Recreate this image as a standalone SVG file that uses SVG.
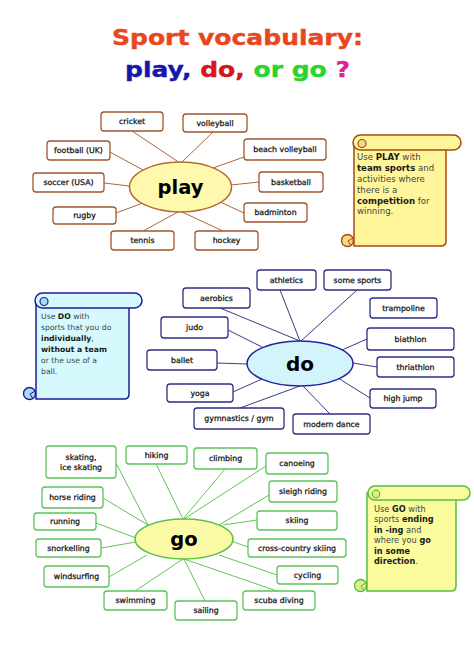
<svg xmlns="http://www.w3.org/2000/svg" width="474" height="670" viewBox="0 0 474 670">
<style>
.bx{fill:#fff;stroke-width:1.3}
.pb{stroke:#a0562e}
.db{stroke:#2e2e82}
.gb{stroke:#5cc25a}
.lb{font-family:"DejaVu Sans",Verdana,sans-serif;font-size:7.8px;fill:#111;stroke:#111;stroke-width:0.25;text-anchor:middle}
.pc line{stroke:#a8683e;stroke-width:1}
.dc line{stroke:#3a3a84;stroke-width:1}
.gc line{stroke:#62c456;stroke-width:1}
.hub{font-family:"DejaVu Sans",Verdana,sans-serif;font-weight:bold;fill:#000;text-anchor:middle}
.st{font-family:"DejaVu Sans",Verdana,sans-serif;fill:#444}
.st tspan.b{font-weight:bold;fill:#1a1a1a}
</style>
<rect width="474" height="670" fill="#fff"/>

<g id="title" font-family="'DejaVu Sans',Verdana,sans-serif" font-weight="bold" text-anchor="middle">
<text x="237.5" y="45" font-size="22" fill="#e8461c" stroke="#e8461c" stroke-width="0.4" textLength="251" lengthAdjust="spacingAndGlyphs">Sport vocabulary:</text>
<text x="237.5" y="77" font-size="22" stroke-width="0.4" textLength="225" lengthAdjust="spacingAndGlyphs"><tspan fill="#1616aa" stroke="#1616aa">play,</tspan><tspan fill="#d41818" stroke="#d41818"> do,</tspan><tspan fill="#2ad42a" stroke="#2ad42a"> or go</tspan><tspan fill="#e0228c" stroke="#e0228c"> ?</tspan></text>
</g>

<!-- connectors -->
<g id="connectors">
<g class="pc">
<line x1="132" y1="131" x2="180" y2="163"/>
<line x1="213" y1="132" x2="181" y2="163"/>
<line x1="244" y1="157" x2="213" y2="168"/>
<line x1="259" y1="182" x2="231" y2="185"/>
<line x1="244" y1="213" x2="218" y2="201"/>
<line x1="223" y1="231" x2="182" y2="212"/>
<line x1="143" y1="231" x2="178" y2="212"/>
<line x1="116" y1="213" x2="143" y2="203"/>
<line x1="104" y1="183" x2="129" y2="186"/>
<line x1="110" y1="152" x2="143" y2="170"/>
</g>
<g class="dc">
<line x1="280" y1="290" x2="300" y2="341"/>
<line x1="357" y1="290" x2="301" y2="341"/>
<line x1="220" y1="308" x2="300" y2="341"/>
<line x1="228" y1="330" x2="262" y2="347"/>
<line x1="217" y1="363" x2="247" y2="364"/>
<line x1="233" y1="392" x2="262" y2="379"/>
<line x1="240" y1="408" x2="300" y2="386"/>
<line x1="330" y1="414" x2="303" y2="386"/>
<line x1="367" y1="339" x2="342" y2="350"/>
<line x1="377" y1="367" x2="353" y2="363"/>
<line x1="370" y1="398" x2="338" y2="378"/>
</g>
<g class="gc">
<line x1="116" y1="463" x2="148" y2="525"/>
<line x1="156" y1="464" x2="183" y2="519"/>
<line x1="225" y1="469" x2="183" y2="519"/>
<line x1="266" y1="466" x2="184" y2="519"/>
<line x1="269" y1="495" x2="219" y2="525"/>
<line x1="257" y1="520" x2="223" y2="525"/>
<line x1="248" y1="547" x2="231" y2="541"/>
<line x1="277" y1="575" x2="219" y2="555"/>
<line x1="277" y1="591" x2="184" y2="559"/>
<line x1="205" y1="601" x2="184" y2="559"/>
<line x1="135" y1="591" x2="183" y2="559"/>
<line x1="109" y1="577" x2="147" y2="555"/>
<line x1="101" y1="548" x2="136" y2="542"/>
<line x1="96" y1="523" x2="136" y2="538"/>
<line x1="103" y1="498" x2="148" y2="525"/>
</g>
</g>

<!-- PLAY -->
<g id="play-hub"><ellipse cx="180.5" cy="187" rx="51" ry="25" fill="#fff9ae" stroke="#b46a30" stroke-width="1.5"/><text class="hub" x="180.5" y="194" font-size="19.5">play</text></g>
<g id="p-cricket"><rect class="bx pb" x="101" y="112" width="62" height="19" rx="3"/><text class="lb" x="132" y="124.3">cricket</text></g>
<g id="p-volleyball"><rect class="bx pb" x="183" y="114" width="64" height="18" rx="3"/><text class="lb" x="215" y="125.8">volleyball</text></g>
<g id="p-beach"><rect class="bx pb" x="244" y="139" width="82" height="21" rx="3"/><text class="lb" x="285" y="152.3">beach volleyball</text></g>
<g id="p-basketball"><rect class="bx pb" x="259" y="172" width="64" height="20" rx="3"/><text class="lb" x="291" y="184.8">basketball</text></g>
<g id="p-badminton"><rect class="bx pb" x="244" y="203" width="63" height="19" rx="3"/><text class="lb" x="275.5" y="215.3">badminton</text></g>
<g id="p-hockey"><rect class="bx pb" x="195" y="231" width="63" height="19" rx="3"/><text class="lb" x="226.5" y="243.3">hockey</text></g>
<g id="p-tennis"><rect class="bx pb" x="111" y="231" width="63" height="19" rx="3"/><text class="lb" x="142.5" y="243.3">tennis</text></g>
<g id="p-rugby"><rect class="bx pb" x="53" y="207" width="63" height="17" rx="3"/><text class="lb" x="84.5" y="218.3">rugby</text></g>
<g id="p-soccer"><rect class="bx pb" x="33" y="173" width="71" height="19" rx="3"/><text class="lb" x="68.5" y="185.3">soccer (USA)</text></g>
<g id="p-football"><rect class="bx pb" x="47" y="141" width="63" height="19" rx="3"/><text class="lb" x="78.5" y="153.3">football (UK)</text></g>

<g id="play-scroll">
<path d="M354,142 H446 V241 Q446,246 441,246 H354 Z" fill="#fff69c" stroke="#a8480e" stroke-width="1.5"/>
<rect x="353" y="135" width="108" height="15" rx="7.5" fill="#fff69c" stroke="#a8480e" stroke-width="1.5"/>
<circle cx="362" cy="143.5" r="4" fill="#f2d98a" stroke="#a8480e" stroke-width="1.2"/>
<circle cx="347.5" cy="240.5" r="6" fill="#f2d98a" stroke="#a8480e" stroke-width="1.4"/>
<path d="M353,238 L348,241 L351,246" fill="none" stroke="#a8480e" stroke-width="1"/>
<text class="st" font-size="8.6"><tspan x="357" y="159.5">Use <tspan class="b">PLAY</tspan> with</tspan><tspan x="357" y="170.5"><tspan class="b">team sports</tspan> and</tspan><tspan x="357" y="181.5">activities where</tspan><tspan x="357" y="192.5">there is a</tspan><tspan x="357" y="203.5"><tspan class="b">competition</tspan> for</tspan><tspan x="357" y="214">winning.</tspan></text>
</g>

<!-- DO -->
<g id="do-hub"><ellipse cx="300" cy="363.5" rx="53" ry="22.5" fill="#d4f4fc" stroke="#2424a0" stroke-width="1.5"/><text class="hub" x="300" y="371" font-size="20">do</text></g>
<g id="d-athletics"><rect class="bx db" x="257" y="270" width="59" height="20" rx="3"/><text class="lb" x="286.5" y="282.8">athletics</text></g>
<g id="d-somesports"><rect class="bx db" x="324" y="270" width="67" height="20" rx="3"/><text class="lb" x="357.5" y="282.8">some sports</text></g>
<g id="d-aerobics"><rect class="bx db" x="183" y="288" width="67" height="20" rx="3"/><text class="lb" x="216.5" y="300.8">aerobics</text></g>
<g id="d-judo"><rect class="bx db" x="161" y="317" width="67" height="21" rx="3"/><text class="lb" x="194.5" y="330.3">judo</text></g>
<g id="d-ballet"><rect class="bx db" x="147" y="350" width="70" height="20" rx="3"/><text class="lb" x="182" y="362.8">ballet</text></g>
<g id="d-yoga"><rect class="bx db" x="167" y="384" width="66" height="18" rx="3"/><text class="lb" x="200" y="395.8">yoga</text></g>
<g id="d-gym"><rect class="bx db" x="194" y="408" width="90" height="21" rx="3"/><text class="lb" x="239" y="421.3">gymnastics / gym</text></g>
<g id="d-modern"><rect class="bx db" x="293" y="414" width="77" height="20" rx="3"/><text class="lb" x="331.5" y="426.8">modern dance</text></g>
<g id="d-trampoline"><rect class="bx db" x="370" y="298" width="67" height="20" rx="3"/><text class="lb" x="403.5" y="310.8">trampoline</text></g>
<g id="d-biathlon"><rect class="bx db" x="367" y="328" width="87" height="22" rx="3"/><text class="lb" x="410.5" y="341.8">biathlon</text></g>
<g id="d-thriathlon"><rect class="bx db" x="377" y="357" width="77" height="20" rx="3"/><text class="lb" x="415.5" y="369.8">thriathlon</text></g>
<g id="d-highjump"><rect class="bx db" x="370" y="389" width="66" height="19" rx="3"/><text class="lb" x="403" y="401.3">high jump</text></g>

<g id="do-scroll">
<path d="M36,300 H129 V394 Q129,399 124,399 H36 Z" fill="#d6f9fe" stroke="#1c1c9c" stroke-width="1.5"/>
<rect x="35" y="293" width="107" height="15" rx="7.5" fill="#d6f9fe" stroke="#1c1c9c" stroke-width="1.5"/>
<circle cx="44" cy="301.5" r="4" fill="#a8dcf0" stroke="#1c1c9c" stroke-width="1.2"/>
<circle cx="29.5" cy="393.5" r="6" fill="#a8dcf0" stroke="#1c1c9c" stroke-width="1.4"/>
<path d="M35,391 L30,394 L33,399" fill="none" stroke="#1c1c9c" stroke-width="1"/>
<text class="st" font-size="7.7"><tspan x="41" y="318.5">Use <tspan class="b">DO</tspan> with</tspan><tspan x="41" y="329.5">sports that you do</tspan><tspan x="41" y="340.5"><tspan class="b">individually</tspan>,</tspan><tspan x="41" y="351.5"><tspan class="b">without a team</tspan></tspan><tspan x="41" y="362.5">or the use of a</tspan><tspan x="41" y="373.5">ball.</tspan></text>
</g>

<!-- GO -->
<g id="go-hub"><ellipse cx="184" cy="539" rx="49" ry="20" fill="#fbfaa6" stroke="#5cc04c" stroke-width="1.5"/><text class="hub" x="184" y="546" font-size="19.5">go</text></g>
<g id="g-skating"><rect class="bx gb" x="46" y="446" width="70" height="32" rx="3"/><text class="lb" x="81" y="459.5">skating,</text><text class="lb" x="81" y="470">ice skating</text></g>
<g id="g-hiking"><rect class="bx gb" x="126" y="446" width="61" height="18" rx="3"/><text class="lb" x="156.5" y="457.8">hiking</text></g>
<g id="g-climbing"><rect class="bx gb" x="194" y="448" width="63" height="21" rx="3"/><text class="lb" x="225.5" y="461.3">climbing</text></g>
<g id="g-canoeing"><rect class="bx gb" x="266" y="453" width="62" height="21" rx="3"/><text class="lb" x="297" y="466.3">canoeing</text></g>
<g id="g-sleigh"><rect class="bx gb" x="269" y="481" width="68" height="21" rx="3"/><text class="lb" x="303" y="494.3">sleigh riding</text></g>
<g id="g-skiing"><rect class="bx gb" x="257" y="511" width="80" height="19" rx="3"/><text class="lb" x="297" y="523.3">skiing</text></g>
<g id="g-cross"><rect class="bx gb" x="248" y="539" width="98" height="18" rx="3"/><text class="lb" x="297" y="550.8">cross-country skiing</text></g>
<g id="g-cycling"><rect class="bx gb" x="277" y="566" width="61" height="18" rx="3"/><text class="lb" x="307.5" y="577.8">cycling</text></g>
<g id="g-scuba"><rect class="bx gb" x="243" y="591" width="72" height="19" rx="3"/><text class="lb" x="279" y="603.3">scuba diving</text></g>
<g id="g-sailing"><rect class="bx gb" x="175" y="601" width="62" height="19" rx="3"/><text class="lb" x="206" y="613.3">sailing</text></g>
<g id="g-swimming"><rect class="bx gb" x="104" y="591" width="63" height="19" rx="3"/><text class="lb" x="135.5" y="603.3">swimming</text></g>
<g id="g-windsurfing"><rect class="bx gb" x="44" y="566" width="65" height="21" rx="3"/><text class="lb" x="76.5" y="579.3">windsurfing</text></g>
<g id="g-snorkelling"><rect class="bx gb" x="36" y="539" width="65" height="18" rx="3"/><text class="lb" x="68.5" y="550.8">snorkelling</text></g>
<g id="g-running"><rect class="bx gb" x="34" y="513" width="62" height="17" rx="3"/><text class="lb" x="65" y="524.3">running</text></g>
<g id="g-horse"><rect class="bx gb" x="42" y="487" width="61" height="21" rx="3"/><text class="lb" x="72.5" y="500.3">horse riding</text></g>

<g id="go-scroll">
<path d="M367,493 H456 V586 Q456,591 451,591 H367 Z" fill="#fafc9e" stroke="#56be3e" stroke-width="1.5"/>
<rect x="368" y="486" width="102" height="14" rx="7" fill="#fafc9e" stroke="#56be3e" stroke-width="1.5"/>
<circle cx="376" cy="494" r="3.8" fill="#e4ec8a" stroke="#56be3e" stroke-width="1.2"/>
<circle cx="360.5" cy="585.5" r="6" fill="#e4ec8a" stroke="#56be3e" stroke-width="1.4"/>
<path d="M366,583 L361,586 L364,591" fill="none" stroke="#56be3e" stroke-width="1"/>
<text class="st" font-size="8.2"><tspan x="374" y="511.5">Use <tspan class="b">GO</tspan> with</tspan><tspan x="374" y="522">sports <tspan class="b">ending</tspan></tspan><tspan x="374" y="532.5"><tspan class="b">in -ing</tspan> and</tspan><tspan x="374" y="543">where you <tspan class="b">go</tspan></tspan><tspan x="374" y="553.5"><tspan class="b">in some</tspan></tspan><tspan x="374" y="564"><tspan class="b">direction</tspan>.</tspan></text>
</g>
</svg>
